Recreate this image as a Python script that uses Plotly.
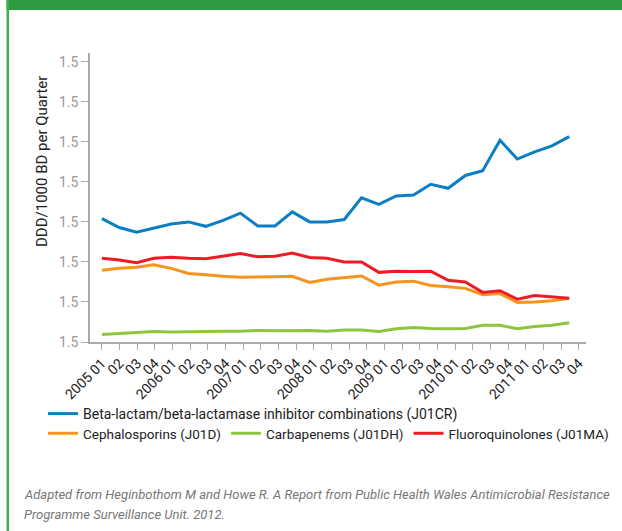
import plotly.graph_objects as go

quarters = []
for yr in range(2005, 2012):
    for q in ["01", "02", "03", "04"]:
        quarters.append(f"{yr} {q}" if q == "01" else q)

beta_lactam = [3.08, 2.86, 2.74, 2.85, 2.95, 3.00, 2.89, 3.04, 3.22, 2.90, 2.90, 3.25, 3.00, 3.00,
               3.06, 3.60, 3.44, 3.65, 3.67, 3.94, 3.84, 4.16, 4.28, 5.04, 4.57, 4.75, 4.90, 5.13]
cephalosporins = [1.79, 1.84, 1.87, 1.93, 1.84, 1.71, 1.68, 1.64, 1.62, 1.62, 1.63, 1.64, 1.49, 1.57,
                  1.61, 1.65, 1.42, 1.50, 1.52, 1.41, 1.38, 1.34, 1.18, 1.21, 0.99, 1.00, 1.03, 1.09]
carbapenems = [0.19, 0.21, 0.23, 0.26, 0.25, 0.26, 0.27, 0.27, 0.27, 0.29, 0.28, 0.29, 0.29, 0.27,
               0.30, 0.30, 0.26, 0.33, 0.36, 0.34, 0.33, 0.34, 0.42, 0.42, 0.33, 0.39, 0.42, 0.48]
fluoroquinolones = [2.09, 2.05, 1.98, 2.09, 2.12, 2.09, 2.08, 2.14, 2.21, 2.13, 2.14, 2.22, 2.11, 2.09,
                    2.00, 2.00, 1.74, 1.77, 1.76, 1.77, 1.54, 1.50, 1.24, 1.28, 1.07, 1.16, 1.13, 1.09]

y_ticks = list(range(8))
y_labels = ["1.5"] * 8

series = [
    ("Beta-lactam/beta-lactamase inhibitor combinations (J01CR)", beta_lactam, "#0b7fc4", "legend"),
    ("Cephalosporins (J01D)", cephalosporins, "#f7941d", "legend2"),
    ("Carbapenems (J01DH)", carbapenems, "#8cc63e", "legend2"),
    ("Fluoroquinolones (J01MA)", fluoroquinolones, "#ec1c24", "legend2"),
]

W, H = 622, 531
L, R, T, B = 90, 36, 53, 189
pw, ph = W - L - R, H - T - B


def px(x):
    return (x - L) / pw


def py(y):
    return (H - B - y) / ph


FONT = "Roboto, Arial, sans-serif"

fig = go.Figure()
idx = list(range(len(quarters)))
for name, vals, col, leg in series:
    fig.add_trace(go.Scatter(x=idx, y=vals, mode="lines", name=name,
                             line=dict(color=col, width=3), legend=leg))

# tick marks sit slightly wider apart than the data points in the original
tick_pos = [i * 1.0208 for i in idx]

fig.update_layout(
    width=W, height=H,
    margin=dict(l=L, r=R, t=T, b=B),
    paper_bgcolor="white", plot_bgcolor="white",
    font=dict(family=FONT, color="#222"),
    showlegend=True,
    xaxis=dict(range=[-0.69, 27.97], tickvals=tick_pos, ticktext=quarters,
               tickangle=-45, ticks="outside", ticklen=6, tickcolor="#aaa",
               showline=True, linecolor="#aaa", linewidth=1.5, showgrid=False,
               zeroline=False, tickfont=dict(size=14, color="#222")),
    yaxis=dict(range=[0, 7.22], tickvals=y_ticks, ticktext=y_labels,
               ticks="outside", ticklen=7, tickcolor="#aaa",
               showline=True, linecolor="#aaa", linewidth=1.5, showgrid=False,
               zeroline=False, tickfont=dict(size=14, color="#999")),
    legend=dict(orientation="h", x=px(43), xanchor="left", y=py(398), yanchor="top",
                font=dict(size=14, color="#222"), bgcolor="rgba(0,0,0,0)"),
    legend2=dict(orientation="h", x=px(43), xanchor="left", y=py(418), yanchor="top",
                 font=dict(size=13.5, color="#222"), bgcolor="rgba(0,0,0,0)"),
    shapes=[
        dict(type="rect", xref="paper", yref="paper", x0=px(6.5), x1=px(W), y0=py(10), y1=py(0),
             fillcolor="#2f9a41", line=dict(width=0), layer="below"),
        dict(type="rect", xref="paper", yref="paper", x0=px(6.5), x1=px(9), y0=py(H), y1=py(0),
             fillcolor="#45ab4f", line=dict(width=0), layer="below"),
    ],
    annotations=[
        dict(xref="paper", yref="paper", x=px(42), y=py(162), xanchor="center", yanchor="middle",
             textangle=-90, showarrow=False, text="DDD/1000 BD per Quarter",
             font=dict(size=15, color="#222")),
        dict(xref="paper", yref="paper", x=px(22), y=py(495), xanchor="left", yanchor="middle",
             align="left", showarrow=False,
             text="<i>Adapted from Heginbothom M and Howe R. A Report from Public Health Wales Antimicrobial Resistance</i>",
             font=dict(size=13, color="#777")),
        dict(xref="paper", yref="paper", x=px(22), y=py(514), xanchor="left", yanchor="middle",
             align="left", showarrow=False,
             text="<i>Programme Surveillance Unit. 2012.</i>",
             font=dict(size=13, color="#777")),
    ],
)

fig.write_html("out.html", config={"displayModeBar": False},
               post_script="document.body.style.margin='0';")
